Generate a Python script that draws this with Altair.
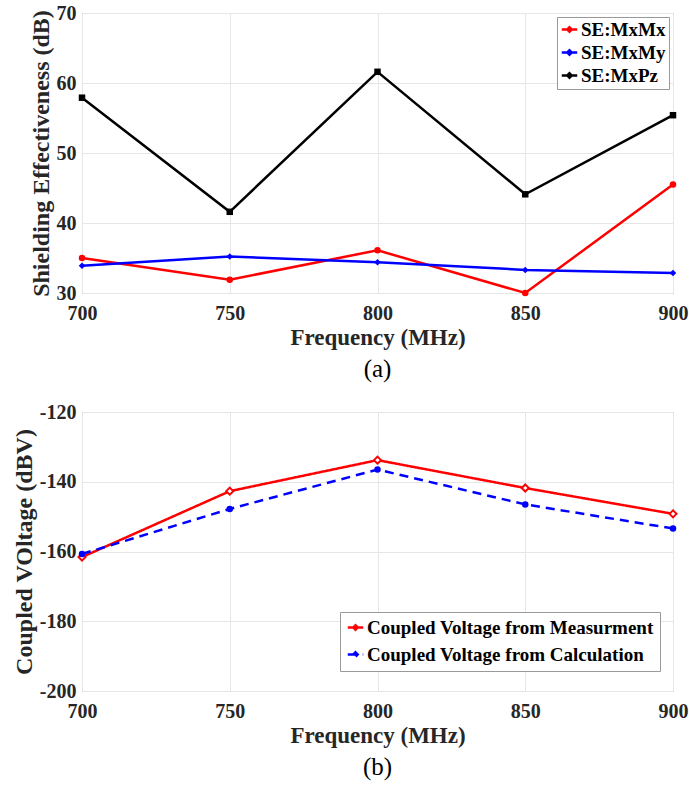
import altair as alt
import pandas as pd

FONT = "Liberation Serif"

freq = [700, 750, 800, 850, 900]

se_names = ["SE:MxMx", "SE:MxMy", "SE:MxPz"]
se_mxmx = [35.0, 31.9, 36.1, 30.0, 45.5]
se_mxmy = [33.9, 35.2, 34.4, 33.3, 32.85]
se_mxpz = [57.9, 41.6, 61.6, 44.1, 55.4]
top_colors = ["#FF0000", "#0000FF", "#000000"]
top_shapes = ["circle", "diamond", "square"]
top_filled = [True, True, True]
top_yticks = [30, 40, 50, 60, 70]

v_names = ["Coupled Voltage from Measurment", "Coupled Voltage from Calculation"]
v_meas = [-161.6, -142.7, -133.8, -141.8, -149.2]
v_calc = [-160.7, -147.8, -136.5, -146.5, -153.4]
bot_colors = ["#FF0000", "#0000FF"]
bot_shapes = ["diamond", "circle"]
bot_filled = [False, True]
bot_yticks = [-200, -180, -160, -140, -120]

df_top = pd.DataFrame({
    "freq": freq * 3,
    "value": se_mxmx + se_mxmy + se_mxpz,
    "series": [n for n in se_names for _ in freq],
})
df_bot = pd.DataFrame({
    "freq": freq * 2,
    "value": v_meas + v_calc,
    "series": [n for n in v_names for _ in freq],
})

LEG_SYMBOL = "M-1,0H1M-0.28,0L0,-0.28L0.28,0L0,0.28Z"


def xenc():
    return alt.X("freq:Q", scale=alt.Scale(domain=[700, 900], nice=False),
                 axis=alt.Axis(values=freq, title="Frequency (MHz)", labelFlush=False,
                               labelPadding=10, titlePadding=3, titleFontSize=23))


def legend(**kw):
    return alt.Legend(title=None, symbolType=LEG_SYMBOL, symbolSize=240,
                      symbolStrokeWidth=2.5, labelFont=FONT, labelFontWeight="bold",
                      labelFontSize=19, labelColor="black", strokeColor="#999999",
                      fillColor="white", labelOffset=2, labelLimit=400, **kw)


def panel(df, names, colors, shapes, filled, domain, yticks, ytitle, leg, dashes, label, height):
    y = alt.Y("value:Q", scale=alt.Scale(domain=domain, nice=False),
              axis=alt.Axis(values=yticks, title=ytitle, labelExpr="datum.value"))
    enc = dict(
        x=xenc(), y=y,
        color=alt.Color("series:N", scale=alt.Scale(domain=names, range=colors), legend=leg),
    )
    if dashes is not None:
        enc["strokeDash"] = alt.StrokeDash("series:N",
                                           scale=alt.Scale(domain=names, range=dashes),
                                           legend=leg)
    layers = [alt.Chart(df).mark_line(strokeWidth=2.5).encode(**enc)]
    for name, col, shp, fl in zip(names, colors, shapes, filled):
        layers.append(
            alt.Chart(df).transform_filter(alt.datum.series == name).mark_point(
                shape=shp, color=col, filled=fl, size=42 if fl else 50, opacity=1,
                strokeWidth=2, fill=col if fl else "white"
            ).encode(x=xenc(), y=y)
        )
    return alt.layer(*layers).properties(
        width=591, height=height,
        title=alt.TitleParams(label, orient="bottom", font=FONT, fontSize=25,
                              fontWeight="normal", color="black", offset=8))


top = panel(df_top, se_names, top_colors, top_shapes, top_filled, [30, 70], top_yticks,
            "Shielding Effectiveness (dB)",
            legend(orient="top-right", offset=4, padding=3, rowPadding=3), None, "(a)", 280)

bot = panel(df_bot, v_names, bot_colors, bot_shapes, bot_filled, [-200, -120], bot_yticks,
            "Coupled VOltage (dBV)",
            legend(orient="none", legendX=258, legendY=200, padding=6, rowPadding=7),
            [[1, 0], [9, 6]], "(b)", 279)

chart = alt.vconcat(top, bot, spacing=18).resolve_scale(color="independent",
                                                        strokeDash="independent")

chart = chart.properties(padding={"left": 11, "top": 2, "right": 0, "bottom": 0},
                         background="white").configure_view(
    stroke="#999999", strokeWidth=1
).configure_axis(
    labelFont=FONT, labelFontWeight="bold", labelFontSize=20, labelColor="#262626",
    titleFont=FONT, titleFontWeight="bold", titleFontSize=24, titleColor="#262626",
    gridColor="#e6e6e6", gridWidth=1, domain=False, ticks=False, labelPadding=6,
).configure_axisY(titlePadding=3)

chart.save("out.html", embed_options={"renderer": "svg", "actions": False})
